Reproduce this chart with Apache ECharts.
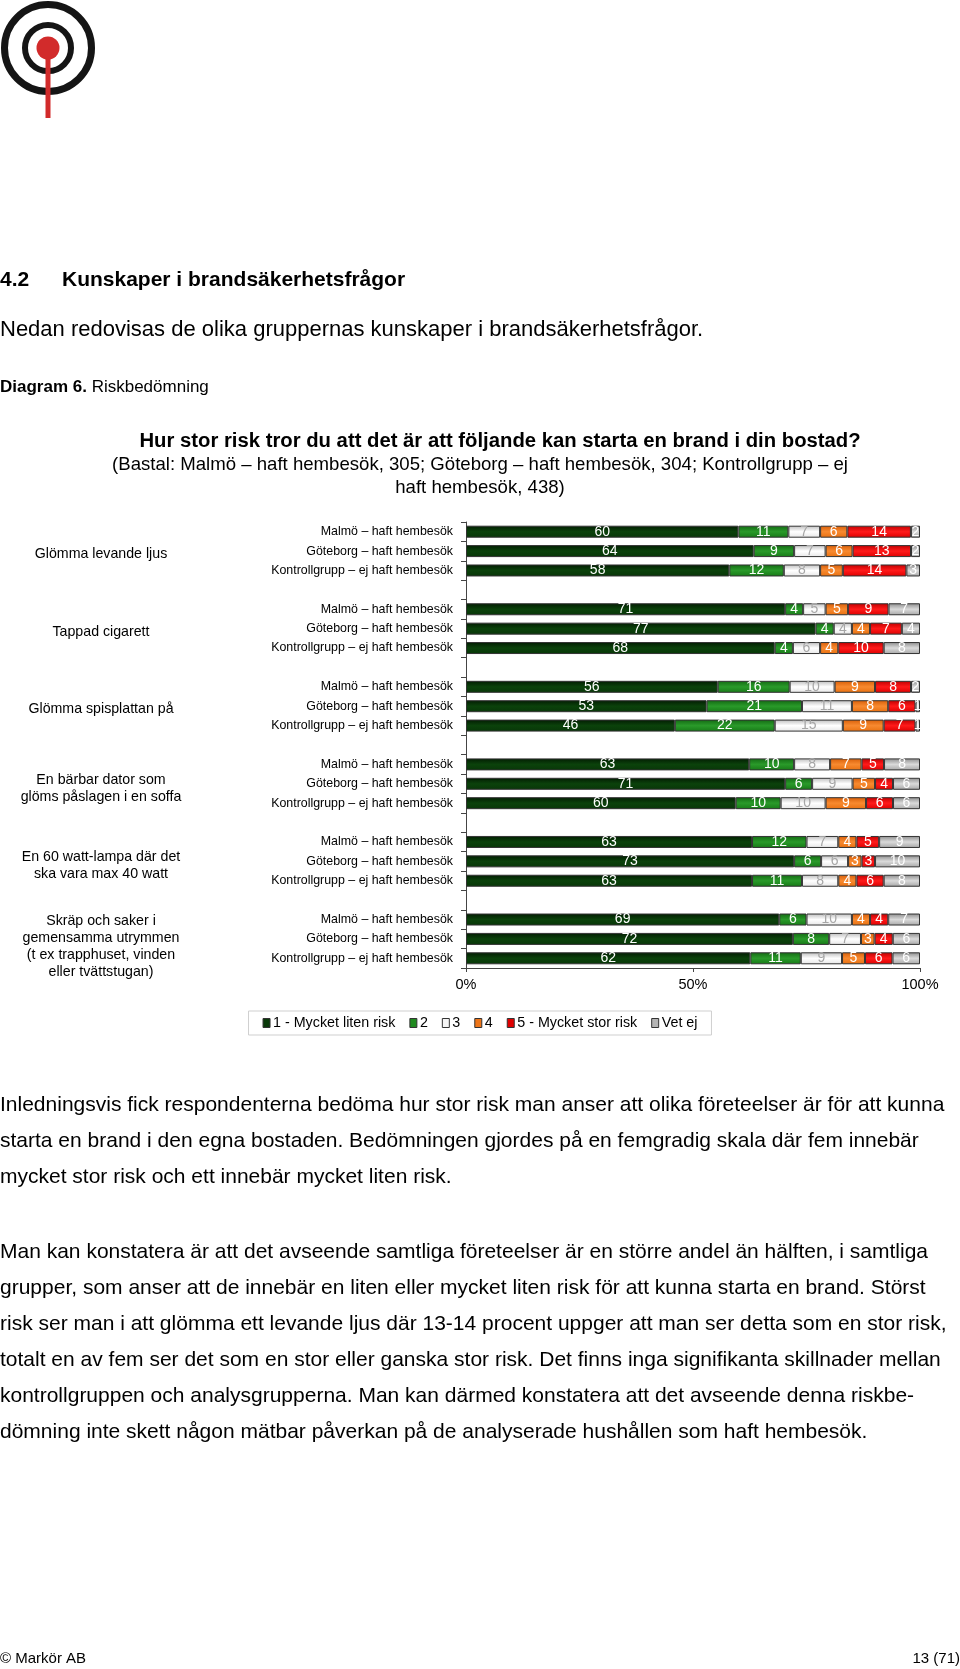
<!DOCTYPE html>
<html><head><meta charset="utf-8">
<script src="https://cdn.jsdelivr.net/npm/echarts@6/dist/echarts.min.js"></script>
<style>html,body{margin:0;padding:0;background:#fff}#c{width:960px;height:1669px}</style>
</head><body><div id="c"></div>
<script>
// ---- data ----
const groups = ['Glömma levande ljus', 'Tappad cigarett', 'Glömma spisplattan på',
  'En bärbar dator som\nglöms påslagen i en soffa',
  'En 60 watt-lampa där det\nska vara max 40 watt',
  'Skräp och saker i\ngemensamma utrymmen\n(t ex trapphuset, vinden\neller tvättstugan)'];
const respondents = ['Malmö – haft hembesök', 'Göteborg – haft hembesök', 'Kontrollgrupp – ej haft hembesök'];
const seriesNames = ['1 - Mycket liten risk', '2', '3', '4', '5 - Mycket stor risk', 'Vet ej'];
// each row: [1, 2, 3, 4, 5, Vet ej]  (Malmö, Göteborg, Kontrollgrupp)
const levandeLjus   = [[60, 11, 7, 6, 14, 2], [64, 9, 7, 6, 13, 2], [58, 12, 8, 5, 14, 3]];
const tappadCigarett = [[71, 4, 5, 5, 9, 7], [77, 4, 4, 4, 7, 4], [68, 4, 6, 4, 10, 8]];
const spisplattan   = [[56, 16, 10, 9, 8, 2], [53, 21, 11, 8, 6, 1], [46, 22, 15, 9, 7, 1]];
const barbarDator   = [[63, 10, 8, 7, 5, 8], [71, 6, 9, 5, 4, 6], [60, 10, 10, 9, 6, 6]];
const wattLampa     = [[63, 12, 7, 4, 5, 9], [73, 6, 6, 3, 3, 10], [63, 11, 8, 4, 6, 8]];
const skrap         = [[69, 6, 10, 4, 4, 7], [72, 8, 7, 3, 4, 6], [62, 11, 9, 5, 6, 6]];
const groupValues = [levandeLjus, tappadCigarett, spisplattan, barbarDator, wattLampa, skrap];
const xTickLabels = ['0%', '50%', '100%'];

// ---- build rows (3 bars per group + an empty spacer row) ----
const rowLabels = [], rowValues = [];
groupValues.forEach((g, gi) => {
  g.forEach((r, ri) => { rowLabels.push(respondents[ri]); rowValues.push(r); });
  if (gi < groupValues.length - 1) { rowLabels.push(''); rowValues.push(null); }
});
const rowIds = rowLabels.map((_, i) => 'r' + i);

const FONT = "'Liberation Sans', Arial, Helvetica, sans-serif";
const grad = (stops) => ({ type: 'linear', x: 0, y: 0, x2: 0, y2: 1, colorStops: stops.map((c, i) => ({ offset: i / (stops.length - 1), color: c })) });
const fills = [
  grad(['#021c02', '#0b420b', '#083608']),
  grad(['#136a13', '#2a9a2a', '#177a17']),
  grad(['#bdbdbd', '#ffffff', '#e6e6e6']),
  grad(['#d85e08', '#f88a30', '#e87010']),
  grad(['#c00000', '#ff1a1a', '#dd0000']),
  grad(['#8c8c8c', '#dadada', '#a6a6a6'])
];
const solid = ['#0a3a0a', '#1f8a1f', '#f4f4f4', '#ee7518', '#e00000', '#b4b4b4'];
const labelColors = ['#fff', '#fff', '#a6a6a6', '#fff', '#fff', '#fff'];

const series = seriesNames.map((name, si) => ({
  name, type: 'bar', stack: 'total', barWidth: 12,
  itemStyle: { color: fills[si], borderColor: '#333', borderWidth: 1 },
  label: { show: true, position: 'inside', color: labelColors[si], fontSize: 14, fontFamily: FONT,
    formatter: p => (p.data && p.data.raw != null ? String(p.data.raw) : '') },
  data: rowValues.map(r => {
    if (!r) return '-';
    const sum = r.reduce((a, b) => a + b, 0);
    return { value: r[si] / sum * 100, raw: r[si] };
  })
}));

const chart = echarts.init(document.getElementById('c'), null, { renderer: 'canvas' });

const textEl = (text, x, y, opt) => ({ type: 'text', x, y, silent: true,
  style: Object.assign({ text, fill: '#000', fontFamily: FONT, fontSize: 16, align: 'left', verticalAlign: 'middle' }, opt || {}) });

const body1 = [
  'Inledningsvis fick respondenterna bedöma hur stor risk man anser att olika företeelser är för att kunna',
  'starta en brand i den egna bostaden. Bedömningen gjordes på en femgradig skala där fem innebär',
  'mycket stor risk och ett innebär mycket liten risk.'];
const body2 = [
  'Man kan konstatera är att det avseende samtliga företeelser är en större andel än hälften, i samtliga',
  'grupper, som anser att de innebär en liten eller mycket liten risk för att kunna starta en brand. Störst',
  'risk ser man i att glömma ett levande ljus där 13-14 procent uppger att man ser detta som en stor risk,',
  'totalt en av fem ser det som en stor eller ganska stor risk. Det finns inga signifikanta skillnader mellan',
  'kontrollgruppen och analysgrupperna. Man kan därmed konstatera att det avseende denna riskbe-',
  'dömning inte skett någon mätbar påverkan på de analyserade hushållen som haft hembesök.'];

const graphics = [
  // logo
  { type: 'circle', shape: { cx: 48, cy: 48, r: 43.5 }, style: { fill: 'none', stroke: '#151515', lineWidth: 7 } },
  { type: 'circle', shape: { cx: 48, cy: 48, r: 23 }, style: { fill: 'none', stroke: '#151515', lineWidth: 6 } },
  { type: 'rect', shape: { x: 45.5, y: 50, width: 5, height: 68 }, style: { fill: '#d22b2b' } },
  { type: 'circle', shape: { cx: 48, cy: 48, r: 11.5 }, style: { fill: '#d22b2b' } },
  // headings
  textEl('4.2', 0, 280, { fontSize: 21, fontWeight: 'bold' }),
  textEl('Kunskaper i brandsäkerhetsfrågor', 62, 280, { fontSize: 21, fontWeight: 'bold' }),
  textEl('Nedan redovisas de olika gruppernas kunskaper i brandsäkerhetsfrågor.', 0, 330, { fontSize: 22 }),
  textEl('{b|Diagram 6.} Riskbedömning', 0, 387, { fontSize: 17, rich: { b: { fontWeight: 'bold', fontSize: 17, fontFamily: FONT } } }),
  textEl('Hur stor risk tror du att det är att följande kan starta en brand i din bostad?', 500, 441, { fontSize: 20.3, fontWeight: 'bold', align: 'center' }),
  textEl('(Bastal: Malmö – haft hembesök, 305; Göteborg – haft hembesök, 304; Kontrollgrupp – ej', 480, 465, { fontSize: 18.6, align: 'center' }),
  textEl('haft hembesök, 438)', 480, 488, { fontSize: 18.6, align: 'center' }),
  // body
  textEl(body1.join('\n'), 0, 1087, { fontSize: 21, lineHeight: 36, verticalAlign: 'top' }),
  textEl(body2.join('\n'), 0, 1234, { fontSize: 21, lineHeight: 36, verticalAlign: 'top' }),
  // footer
  textEl('© Markör AB', 0, 1659, { fontSize: 15 }),
  textEl('13 (71)', 960, 1659, { fontSize: 15, align: 'right' })
];

chart.setOption({
  animation: false,
  backgroundColor: '#fff',
  textStyle: { fontFamily: FONT },
  grid: { left: 466, right: 40, top: 522, bottom: 701, containLabel: false },
  xAxis: {
    type: 'value', min: 0, max: 100, interval: 50,
    axisLine: { show: true, lineStyle: { color: '#444', width: 1 } },
    axisTick: { show: true, length: 4, lineStyle: { color: '#444' } },
    splitLine: { show: false },
    axisLabel: { color: '#000', fontSize: 14.5, margin: 9, formatter: v => xTickLabels[Math.round(v / 50)] }
  },
  yAxis: {
    type: 'category', inverse: true, data: rowIds,
    axisLine: { show: true, lineStyle: { color: '#444', width: 1 } },
    axisTick: { show: true, length: 5, lineStyle: { color: '#444' } },
    axisLabel: { color: '#000', fontSize: 12.4, margin: 13, formatter: (v, i) => rowLabels[i] }
  },
  legend: {
    left: 'center', top: 1011, icon: 'rect', itemWidth: 7, itemHeight: 9, itemGap: 14,
    borderColor: '#cfcfcf', borderWidth: 1, padding: [5, 14],
    textStyle: { fontSize: 14.3, color: '#000', padding: [0, 0, 0, -2] },
    data: seriesNames.map((n, i) => ({ name: n, itemStyle: { color: solid[i], borderColor: '#333', borderWidth: 1 } }))
  },
  series,
  graphic: graphics
});

// group labels, placed on the middle row of each group via the axis scale
const groupGraphics = groups.map((g, gi) => {
  const y = chart.convertToPixel({ yAxisIndex: 0 }, rowIds[gi * 4 + 1]);
  const lines = g.split('\n').length;
  return textEl(g, 101, y + 3 + (lines - 1) * 1.5, { fontSize: 14.2, align: 'center', lineHeight: 17 });
});
chart.setOption({ graphic: graphics.concat(groupGraphics) });
</script></body></html>
